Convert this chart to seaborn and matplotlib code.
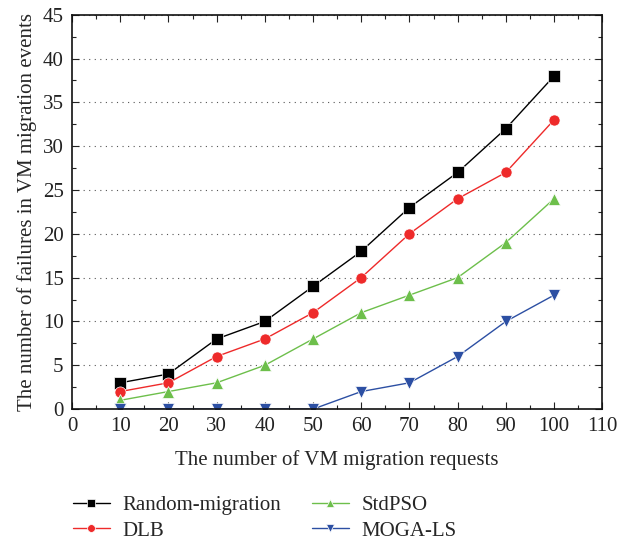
import numpy as np
import pandas as pd
import seaborn as sns
import matplotlib.pyplot as plt
from matplotlib.ticker import MultipleLocator

sns.set_theme(style='ticks')
plt.rcParams['font.family'] = ['Liberation Serif', 'DejaVu Serif']

requests = [10, 20, 30, 40, 50, 60, 70, 80, 90, 100]
random_migration = [3, 4, 8, 10, 14, 18, 23, 27, 32, 38]
dlb = [2, 3, 6, 8, 11, 15, 20, 24, 27, 33]
std_pso = [1, 2, 3, 5, 8, 11, 13, 15, 19, 24]
moga_ls = [0, 0, 0, 0, 0, 2, 3, 6, 10, 13]

series_names = ['Random-migration', 'DLB', 'StdPSO', 'MOGA-LS']
df = pd.DataFrame({
    'requests': requests * 4,
    'failures': random_migration + dlb + std_pso + moga_ls,
    'method': np.repeat(series_names, len(requests)),
})

palette = {'Random-migration': '#000000', 'DLB': '#ee2a2a',
           'StdPSO': '#6dbf4b', 'MOGA-LS': '#2c4fa3'}
markers = {'Random-migration': 's', 'DLB': 'o', 'StdPSO': '^', 'MOGA-LS': 'v'}

fig = plt.figure(figsize=(6.18, 5.44), dpi=100)
ax = fig.add_axes([0.1165, 0.248, 0.858, 0.725])

sns.lineplot(data=df, x='requests', y='failures', hue='method', style='method',
             palette=palette, markers=markers, dashes=False, markersize=8,
             markeredgewidth=0.5, linewidth=1, ax=ax, legend=True)

ax.set_xlim(0, 110)
ax.set_ylim(0, 45)
ax.xaxis.set_major_locator(MultipleLocator(10))
ax.xaxis.set_minor_locator(MultipleLocator(5))
ax.yaxis.set_major_locator(MultipleLocator(5))
ax.yaxis.set_minor_locator(MultipleLocator(2.5))
ax.tick_params(which='both', direction='in', top=True, right=True,
               labelsize=15, colors='#222222', width=0.8)
ax.tick_params(which='major', length=5, pad=6)
ax.tick_params(which='minor', length=3)
for s in ax.spines.values():
    s.set_linewidth(1.2)
    s.set_color('#111111')
ax.yaxis.grid(True, linestyle=(0, (1, 4)), color='#555555', linewidth=0.8)
ax.set_xlabel('The number of VM migration requests', fontsize=15, labelpad=10)
ax.set_ylabel('The number of failures in VM migration events', fontsize=15, labelpad=4)

handles, labels = ax.get_legend_handles_labels()
ax.get_legend().remove()
fig.legend(handles, labels, loc='upper left', bbox_to_anchor=(0.105, 0.105),
           ncol=2, frameon=False, fontsize=15, columnspacing=1.5,
           handlelength=1.75, handletextpad=0.6, labelspacing=0.3,
           markerscale=0.7, borderaxespad=0)

fig.savefig('out.png', dpi=100)
